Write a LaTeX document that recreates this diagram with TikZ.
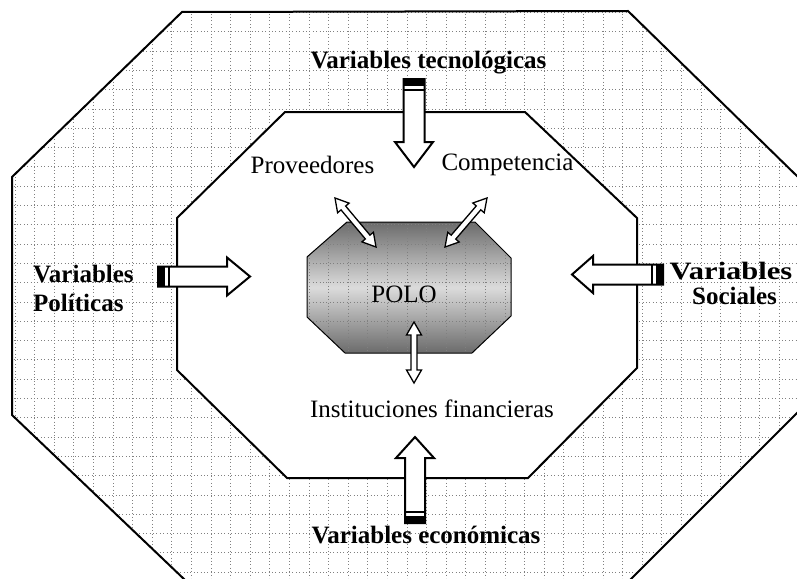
\documentclass[tikz,border=0pt]{standalone}
\usepackage{fontspec}
\usepackage{graphicx}
\setmainfont{Liberation Serif}
\usetikzlibrary{calc}

\tikzset{
  frame/.style={draw=black, line width=2pt, line join=miter},
  gridline/.style={draw=black!50, line width=0.8pt, dash pattern=on 0.8pt off 2.6pt},
  blockstyle/.style={draw=black, fill=white, line width=2pt, line join=miter},
  thinarrow/.style={draw=black, fill=white, line width=1.3pt, line join=miter},
  boldlabel/.style={font=\fontsize{25}{29}\selectfont\bfseries, inner sep=0pt},
  plainlabel/.style={font=\fontsize{25}{29}\selectfont, inner sep=0pt},
}

% block arrow: #1 tail, #2 tip, #3 half shaft, #4 half head, #5 head length
\newcommand{\blockarrow}[5]{%
  \coordinate (bH) at ($(#2)!#5!(#1)$);
  \coordinate (bK) at ($(#1)!7pt!(#2)$);
  \coordinate (bM) at ($(#1)!11pt!(#2)$);
  \draw[blockstyle] ($(#1)!#3!90:(#2)$) -- ($(bH)!#3!90:(#2)$) -- ($(bH)!#4!90:(#2)$) -- (#2)
     -- ($(bH)!#4!-90:(#2)$) -- ($(bH)!#3!-90:(#2)$) -- ($(#1)!#3!-90:(#2)$) -- cycle;
  \fill[black] ($(#1)!#3!90:(#2)$) -- ($(bK)!#3!90:(#2)$) -- ($(bK)!#3!-90:(#2)$) -- ($(#1)!#3!-90:(#2)$) -- cycle;
  \draw[line width=2pt] ($(bM)!#3!90:(#2)$) -- ($(bM)!#3!-90:(#2)$);
}
% double arrow: #1 end A, #2 end B, #3 half shaft, #4 half head, #5 head length
\newcommand{\dblarrow}[5]{%
  \coordinate (dA) at ($(#1)!#5!(#2)$);
  \coordinate (dB) at ($(#2)!#5!(#1)$);
  \draw[thinarrow] (#1) -- ($(dA)!#4!90:(#2)$) -- ($(dA)!#3!90:(#2)$) -- ($(dB)!#3!-90:(#1)$)
     -- ($(dB)!#4!-90:(#1)$) -- (#2) -- ($(dB)!#4!90:(#1)$) -- ($(dB)!#3!90:(#1)$)
     -- ($(dA)!#3!-90:(#2)$) -- ($(dA)!#4!-90:(#2)$) -- cycle;
}

\begin{document}
\begin{tikzpicture}[x=1pt,y=-1pt]
\useasboundingbox (0,0) rectangle (797,578);
\clip (0,0) rectangle (797,578);
\fill[white] (0,0) rectangle (797,578);

% outer octagon
\coordinate (o1) at (182,12);
\coordinate (o2) at (628,11);
\coordinate (o3) at (799,178);
\coordinate (o4) at (799,411);
\coordinate (o5) at (630,580);
\coordinate (o6) at (185,580);
\coordinate (o7) at (12,415);
\coordinate (o8) at (12,177);
% inner octagon
\coordinate (i1) at (285,112);
\coordinate (i2) at (525,112);
\coordinate (i3) at (637,218);
\coordinate (i4) at (637,368);
\coordinate (i5) at (528,478);
\coordinate (i6) at (287,478);
\coordinate (i7) at (177,370);
\coordinate (i8) at (177,218);
% polo octagon
\coordinate (p1) at (347,222);
\coordinate (p2) at (475,222);
\coordinate (p3) at (511,258);
\coordinate (p4) at (511,316);
\coordinate (p5) at (472,353);
\coordinate (p6) at (345,353);
\coordinate (p7) at (307,317);
\coordinate (p8) at (307,257);

\begin{scope}
  \clip (o1) -- (o2) -- (o3) -- (o4) -- (o5) -- (o6) -- (o7) -- (o8) -- cycle;
  \foreach \k in {0,...,40} \draw[gridline] ({15+19.6*\k},0) -- ({15+19.6*\k},578);
  \foreach \k in {0,...,30} \draw[gridline] (0,{12.4+19.3*\k}) -- (797,{12.4+19.3*\k});
\end{scope}
\draw[frame] (o1) -- (o2) -- (o3) -- (o4) -- (o5) -- (o6) -- (o7) -- (o8) -- cycle;
\draw[frame, fill=white] (i1) -- (i2) -- (i3) -- (i4) -- (i5) -- (i6) -- (i7) -- (i8) -- cycle;

% POLO
\shade[top color=black!58, bottom color=black!58, middle color=black!14]
  (p1) -- (p2) -- (p3) -- (p4) -- (p5) -- (p6) -- (p7) -- (p8) -- cycle;
\begin{scope}
  \clip (p1) -- (p2) -- (p3) -- (p4) -- (p5) -- (p6) -- (p7) -- (p8) -- cycle;
  \foreach \k in {0,...,40} \draw[gridline] ({15+19.6*\k},0) -- ({15+19.6*\k},578);
  \foreach \k in {0,...,30} \draw[gridline] (0,{12.4+19.3*\k}) -- (797,{12.4+19.3*\k});
\end{scope}
\draw[line width=1pt] (p1) -- (p2) -- (p3) -- (p4) -- (p5) -- (p6) -- (p7) -- (p8) -- cycle;

% labels
\node[boldlabel, anchor=base] (tec) at (428.5,68) {Variables tecnológicas};
\node[plainlabel, anchor=base] (prov) at (312.5,173) {Proveedores};
\node[plainlabel, anchor=base] (comp) at (507.5,170) {Competencia};
\node[boldlabel, anchor=base west] (polA) at (33,282) {Variables};
\node[boldlabel, anchor=base west] (polB) at (33,311) {Políticas};
\node[boldlabel, anchor=base] (socA) at (731,279) {\scalebox{1.22}[1]{Variables}};
\node[boldlabel, anchor=base] (socB) at (734.5,304) {Sociales};
\node[plainlabel, anchor=base] (fin) at (432,417) {Instituciones financieras};
\node[boldlabel, anchor=base] (eco) at (426,543) {Variables económicas};
\node[plainlabel, anchor=base] (polo) at (404,302) {POLO};

% block arrows
\coordinate (tecT) at (414,79);
\coordinate (tecP) at (414,167);
\blockarrow{tecT}{tecP}{10.5pt}{19pt}{25pt}
\coordinate (polT) at (158,276.5);
\coordinate (polP) at (250,276.5);
\blockarrow{polT}{polP}{10pt}{19pt}{23pt}
\coordinate (socT) at (663,274.5);
\coordinate (socP) at (572,274.5);
\blockarrow{socT}{socP}{10pt}{18.5pt}{21pt}
\coordinate (ecoT) at (415,523);
\coordinate (ecoP) at (415,437);
\blockarrow{ecoT}{ecoP}{10pt}{19pt}{21pt}

% double arrows
\coordinate (provA) at (335,198);
\coordinate (provB) at (376,247);
\dblarrow{provA}{provB}{3pt}{7.5pt}{13pt}
\coordinate (compA) at (487,198);
\coordinate (compB) at (445,247);
\dblarrow{compA}{compB}{3pt}{7.5pt}{13pt}
\coordinate (finA) at (414,322);
\coordinate (finB) at (414,383);
\dblarrow{finA}{finB}{3pt}{7.5pt}{13pt}
\end{tikzpicture}
\end{document}
